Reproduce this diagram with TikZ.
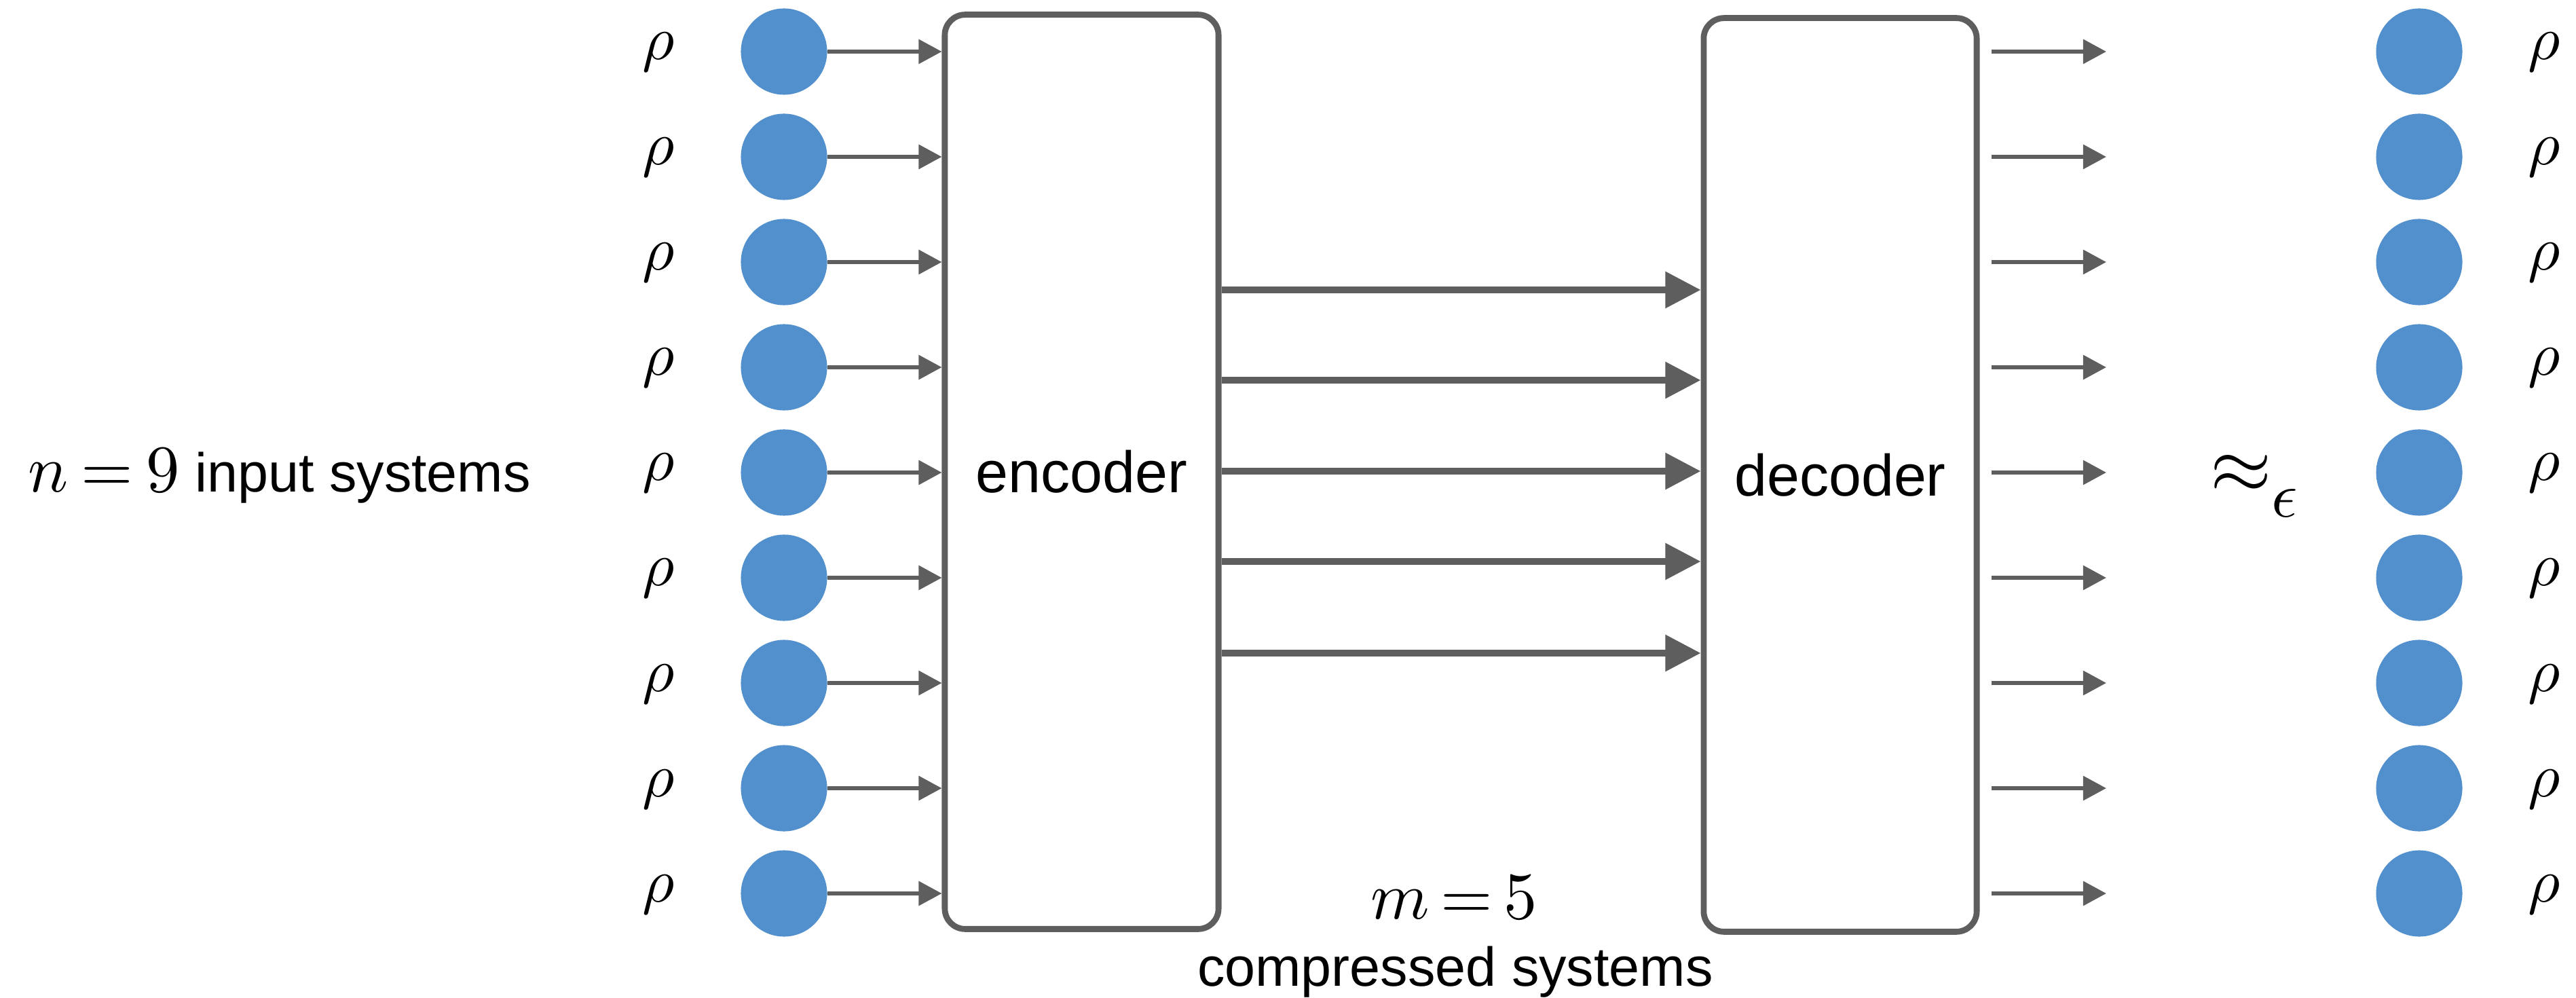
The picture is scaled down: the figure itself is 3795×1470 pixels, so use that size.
\documentclass[tikz,border=0pt]{standalone}
\usepackage{fontspec}
\setmainfont{Liberation Sans}
\DeclareFontShape{OML}{cmm}{m}{it}{<->cmmi10}{}
\DeclareFontShape{OT1}{cmr}{m}{n}{<->cmr10}{}
\DeclareFontShape{OMS}{cmsy}{m}{n}{<->cmsy10}{}
\DeclareMathSizes{33}{33}{27}{20}
\usetikzlibrary{arrows.meta}
\definecolor{boxgray}{RGB}{94,94,94}
\definecolor{qblue}{RGB}{81,143,205}
\begin{document}
\begin{tikzpicture}[x=0.01cm,y=-0.01cm,
  qubit/.style={circle,fill=qblue,draw=none,minimum size=1.27cm,inner sep=0},
  rholab/.style={anchor=base,inner sep=0,font=\fontsize{26}{28}\selectfont},
  procbox/.style={draw=boxgray,line width=2.5pt,rounded corners=0.3cm,inner sep=0,font=\fontsize{24.5}{28}\selectfont},
  thinarrow/.style={draw=boxgray,line width=1.7pt,-{Triangle[length=9.7pt,width=10pt]}},
  thickarrow/.style={draw=boxgray,line width=2.6pt,-{Triangle[length=14.8pt,width=14.8pt]}},
  mathlab/.style={inner sep=0,font=\fontsize{28}{30}\selectfont},
  sanslab/.style={inner sep=0,font=\fontsize{23}{26}\selectfont}]
\useasboundingbox (0,0) rectangle (3795,1470);

% boxes
\node[procbox,minimum width=4.03cm,minimum height=13.46cm] (enc) at (1593.5,695) {encoder};
\node[procbox,minimum width=4.02cm,minimum height=13.45cm] (dec) at (2711,699.5) {decoder};

% input and output systems
\foreach \i in {1,...,9}{
  \pgfmathsetmacro{\yy}{76+155*(\i-1)}
  \node[qubit] (a\i) at (1155,\yy) {};
  \node[rholab] (ra\i) at (970,\yy+12) {$\rho$};
  \draw[thinarrow] (a\i.east) -- (a\i.east -| enc.west);
  \node[qubit] (b\i) at (3564,\yy) {};
  \node[rholab] (rb\i) at (3748,\yy+12) {$\rho$};
  \coordinate (oe\i) at (3103,\yy);
  \draw[thinarrow] ([xshift=0.17cm]dec.east |- b\i) -- (oe\i);
}

% compressed systems
\foreach \k/\yy in {1/427,2/560,3/694,4/827,5/962}{
  \coordinate (m\k) at (0,\yy);
  \draw[thickarrow] (enc.east |- m\k) -- (dec.west |- m\k);
}

% labels
\node[anchor=base west,inner sep=0] (nlab) at (41,725)
  {{\fontsize{28}{30}\selectfont$n\mskip3.5mu{=}\mskip3.5mu9$}{\fontsize{23}{26}\selectfont\ input systems}};
\node[mathlab,anchor=base] (mlab) at (2142,1353) {$m\mskip3mu{=}\mskip3mu5$};
\node[sanslab,anchor=base] (clab) at (2144,1452) {compressed systems};
\node[anchor=base west,inner sep=0,font=\fontsize{33}{36}\selectfont] (approx) at (3256,727)
  {$\approx_{\lower5pt\hbox{$\scriptstyle\epsilon$}}$};
\end{tikzpicture}
\end{document}
